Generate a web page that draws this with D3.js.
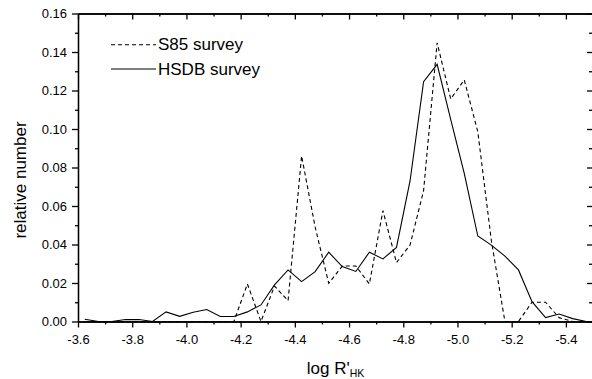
<!DOCTYPE html>
<html>
<head>
<meta charset="utf-8">
<script src="https://cdn.jsdelivr.net/npm/d3@7"></script>
<style>
  body { margin: 0; background: #fff; }
  svg text { font-family: "Liberation Sans", Arial, sans-serif; fill: #000; }
  .axis path, .axis line { stroke: #000; stroke-width: 1.3; }
</style>
</head>
<body>
<script>
// bin centres of log R'HK (0.05 wide bins)
var binCentres = [-3.625, -3.675, -3.725, -3.775, -3.825, -3.875, -3.925, -3.975,
  -4.025, -4.075, -4.125, -4.175, -4.225, -4.275, -4.325, -4.375, -4.425, -4.475,
  -4.525, -4.575, -4.625, -4.675, -4.725, -4.775, -4.825, -4.875, -4.925, -4.975,
  -5.025, -5.075, -5.125, -5.175, -5.225, -5.275, -5.325, -5.375, -5.425, -5.475]

// relative number, S85 survey (dashed)
var s85 = [0, 0, 0, 0, 0, 0, 0, 0,
  0, 0, 0, 0, 0.0195, 0, 0.0184, 0.0108, 0.086, 0.049,
  0.0198, 0.0288, 0.0288, 0.0195, 0.0576, 0.0306, 0.0397, 0.068, 0.1448, 0.1156,
  0.1255, 0.0986, 0.042, 0, 0, 0.01, 0.01, 0.002, 0, 0]

// relative number, HSDB survey (solid)
var hsdb = [0.0012, 0, 0, 0.001, 0.001, 0, 0.005, 0.0027,
  0.0048, 0.0062, 0.0026, 0.0026, 0.005, 0.0086, 0.019, 0.0268, 0.0207, 0.0259,
  0.036, 0.0285, 0.026, 0.036, 0.0325, 0.0385, 0.073, 0.1246, 0.1336, 0.105,
  0.077, 0.0444, 0.0397, 0.034, 0.0268, 0.0103, 0.002, 0.0039, 0.0015, 0]

var xTicks = [-3.6, -3.8, -4.0, -4.2, -4.4, -4.6, -4.8, -5.0, -5.2, -5.4]
var xMinor = [-3.7, -3.9, -4.1, -4.3, -4.5, -4.7, -4.9, -5.1, -5.3, -5.5]
var yTicks = [0, 0.02, 0.04, 0.06, 0.08, 0.10, 0.12, 0.14, 0.16]
var yMinor = [0.01, 0.03, 0.05, 0.07, 0.09, 0.11, 0.13, 0.15]

var width = 592
var height = 379
var plot = {left: 78, right: 593, top: 13.5, bottom: 321.5}

var svg = d3.select("body").append("svg")
    .attr("width", width)
    .attr("height", height)

var x = d3.scaleLinear().domain([-3.6, -5.5]).range([plot.left, plot.right])
var y = d3.scaleLinear().domain([0, 0.16]).range([plot.bottom, plot.top])

var fmtX = d3.format(".1f")
var fmtY = d3.format(".2f")

// bottom axis (ticks outward)
svg.append("g").attr("class", "axis")
   .attr("transform", `translate(0,${plot.bottom})`)
   .call(d3.axisBottom(x).tickValues(xMinor).tickSize(3).tickFormat("").tickSizeOuter(0))
svg.append("g").attr("class", "axis")
   .attr("transform", `translate(0,${plot.bottom})`)
   .call(d3.axisBottom(x).tickValues(xTicks).tickSize(6).tickPadding(7)
     .tickFormat(d => fmtX(d).replace("\u2212", "-")).tickSizeOuter(0))
   .call(g => g.selectAll("text").style("font-size", "13px"))

// top axis (ticks inward)
svg.append("g").attr("class", "axis")
   .attr("transform", `translate(0,${plot.top})`)
   .call(d3.axisTop(x).tickValues(xMinor).tickSize(-3).tickFormat("").tickSizeOuter(0))
svg.append("g").attr("class", "axis")
   .attr("transform", `translate(0,${plot.top})`)
   .call(d3.axisTop(x).tickValues(xTicks).tickSize(-6).tickFormat("").tickSizeOuter(0))

// left axis (ticks outward)
svg.append("g").attr("class", "axis")
   .attr("transform", `translate(${plot.left},0)`)
   .call(d3.axisLeft(y).tickValues(yMinor).tickSize(3).tickFormat("").tickSizeOuter(0))
svg.append("g").attr("class", "axis")
   .attr("transform", `translate(${plot.left},0)`)
   .call(d3.axisLeft(y).tickValues(yTicks).tickSize(6).tickPadding(5).tickFormat(fmtY).tickSizeOuter(0))
   .call(g => g.selectAll("text").style("font-size", "13px"))

// right axis (ticks inward)
svg.append("g").attr("class", "axis")
   .attr("transform", `translate(${plot.right},0)`)
   .call(d3.axisRight(y).tickValues(yMinor).tickSize(-4).tickFormat("").tickSizeOuter(0))
svg.append("g").attr("class", "axis")
   .attr("transform", `translate(${plot.right},0)`)
   .call(d3.axisRight(y).tickValues(yTicks).tickSize(-6).tickFormat("").tickSizeOuter(0))

svg.selectAll(".axis .domain").attr("fill", "none")

// lines
var line = d3.line()
    .x(d => x(d[0]))
    .y(d => y(d[1]))

svg.append("path")
   .datum(binCentres.map((c, i) => [c, s85[i]]))
   .attr("d", line)
   .attr("fill", "none")
   .attr("stroke", "#000")
   .attr("stroke-width", 1.1)
   .attr("stroke-dasharray", "4,3")

svg.append("path")
   .datum(binCentres.map((c, i) => [c, hsdb[i]]))
   .attr("d", line)
   .attr("fill", "none")
   .attr("stroke", "#000")
   .attr("stroke-width", 1.1)

// legend
var legend = [
  {name: "S85 survey", dash: "4,3", y: 44.7},
  {name: "HSDB survey", dash: null, y: 69}
]
legend.forEach(function(l) {
  svg.append("line")
     .attr("x1", 111).attr("x2", 156)
     .attr("y1", l.y).attr("y2", l.y)
     .attr("stroke", "#000")
     .attr("stroke-width", 1.1)
     .attr("stroke-dasharray", l.dash)
  svg.append("text")
     .attr("x", 158)
     .attr("y", l.y + 5.5)
     .style("font-size", "17px")
     .text(l.name)
})

// axis titles
var xTitle = svg.append("text")
    .attr("x", (plot.left + plot.right) / 2)
    .attr("y", 374)
    .style("text-anchor", "middle")
    .style("font-size", "17px")
xTitle.append("tspan").text("log R'")
xTitle.append("tspan").attr("dy", 3).style("font-size", "10.5px").text("HK")

svg.append("text")
    .attr("transform", "rotate(-90)")
    .attr("x", -180)
    .attr("y", 26)
    .style("text-anchor", "middle")
    .style("font-size", "17px")
    .text("relative number")
</script>
</body>
</html>
